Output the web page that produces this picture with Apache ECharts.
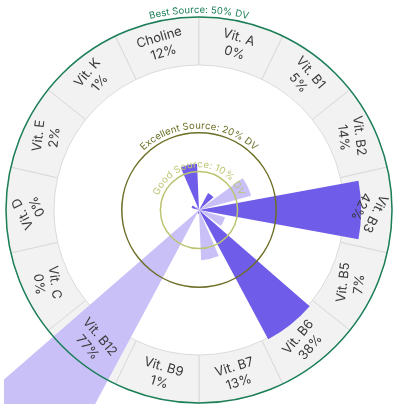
<!DOCTYPE html>
<html>
<head>
<meta charset="utf-8">
<script src="https://cdn.jsdelivr.net/npm/echarts@6/dist/echarts.min.js"></script>
<style>
  html, body { margin: 0; padding: 0; background: #fff; }
  #main { position: absolute; left: 4px; top: 0; width: 392px; height: 404px; }
</style>
</head>
<body>
<div id="main"></div>
<script>
// nutrients, % daily value per serving
var nutrients = ['Choline', 'Vit. A', 'Vit. B1', 'Vit. B2', 'Vit. B3', 'Vit. B5', 'Vit. B6',
                 'Vit. B7', 'Vit. B9', 'Vit. B12', 'Vit. C', 'Vit. D', 'Vit. E', 'Vit. K'];
var dailyValue = [12, 0, 5, 14, 42, 7, 38, 13, 1, 77, 0, 0, 2, 1];

// reference rings
var thresholdValues = [50, 20, 10];
var thresholdLabels = ['Best Source: 50% DV', 'Excellent Source: 20% DV', 'Good Source: 10% DV'];
var thresholdColors = ['#1b7f57', '#6d6e26', '#bcc471'];

var myChart = echarts.init(document.getElementById('main'));

var step = 360 / nutrients.length;
var startAngle = 90 + step;
var center = [195, 210];

// rotate ring labels so they follow the circle and stay upright
function labelRotate(i) {
    var a = startAngle - (i + 0.5) * step;
    while (a <= -180) a += 360;
    while (a > 180) a -= 360;
    if (Math.abs(a + 180) < 0.01) a = 180;
    return a > -0.01 ? a - 90 : a + 90;
}

var measureCtx = document.createElement('canvas').getContext('2d');
var arcFont = '9.6px Inter';
measureCtx.font = arcFont;

function arcText(text, cx, cy, R, color) {
    var widths = [], total = 0;
    for (var i = 0; i < text.length; i++) {
        var w = measureCtx.measureText(text[i]).width;
        widths.push(w);
        total += w;
    }
    var els = [];
    var a0 = Math.PI / 2 + (total / 2) / R;
    var acc = 0;
    for (var j = 0; j < text.length; j++) {
        var a = a0 - (acc + widths[j] / 2) / R;
        acc += widths[j];
        els.push({
            type: 'text',
            x: cx + R * Math.cos(a),
            y: cy - R * Math.sin(a),
            rotation: a - Math.PI / 2,
            style: {
                text: text[j],
                font: arcFont,
                fill: color,
                align: 'center',
                verticalAlign: 'bottom'
            }
        });
    }
    return els;
}

var ringData = nutrients.map(function (n) { return { name: n, value: 1 }; });
var ringLabelData = nutrients.map(function (n, i) {
    return {
        name: n,
        value: 1,
        label: {
            rotate: labelRotate(i),
            formatter: n + '\n' + dailyValue[i] + '%'
        }
    };
});

option = {
    animation: false,
    polar: [
        { center: center, radius: [145, 193] },
        { center: center, radius: [0, 193] },
        { center: center, radius: [0, 193] }
    ],
    angleAxis: [
        { polarIndex: 0, type: 'category', data: nutrients, startAngle: startAngle, show: false },
        { polarIndex: 1, type: 'category', data: nutrients, startAngle: startAngle, show: false },
        { polarIndex: 2, type: 'value', min: 0, max: 360, startAngle: 0, clockwise: false, show: false }
    ],
    radiusAxis: [
        { polarIndex: 0, type: 'value', min: 0, max: 1, show: false },
        { polarIndex: 1, type: 'value', min: 0, max: 50, show: false },
        { polarIndex: 2, type: 'value', min: 0, max: 50, show: false }
    ],
    series: [
        {
            name: 'ring',
            type: 'bar',
            coordinateSystem: 'polar',
            polarIndex: 0,
            barCategoryGap: '0%',
            barGap: '-100%',
            data: ringData,
            itemStyle: { color: '#f2f2f2', borderColor: '#dadada', borderWidth: 1 },
            z: 1,
            silent: true
        },
        {
            name: 'DV',
            type: 'bar',
            coordinateSystem: 'polar',
            polarIndex: 1,
            barCategoryGap: '19%',
            clip: false,
            data: dailyValue,
            itemStyle: {
                color: function (p) { return p.dataIndex % 2 === 0 ? '#6f5ce8' : '#c8c0f7'; }
            },
            z: 2
        },
        {
            name: 'ringLabels',
            type: 'bar',
            coordinateSystem: 'polar',
            polarIndex: 0,
            barCategoryGap: '0%',
            barGap: '-100%',
            data: ringLabelData,
            itemStyle: { color: 'rgba(0,0,0,0)' },
            label: {
                show: true,
                position: 'middle',
                color: '#3a3a3a',
                fontFamily: 'Inter',
                fontSize: 13,
                lineHeight: 16
            },
            z: 3,
            silent: true
        },
        {
            name: 'thresholds',
            type: 'custom',
            coordinateSystem: 'polar',
            polarIndex: 2,
            data: thresholdValues.map(function (v) { return [v, 90]; }),
            renderItem: function (params, api) {
                var cs = params.coordSys;
                var i = params.dataIndex;
                var p = api.coord([api.value(0), 90]);
                var R = Math.sqrt(Math.pow(p[0] - cs.cx, 2) + Math.pow(p[1] - cs.cy, 2));
                var children = [{
                    type: 'circle',
                    shape: { cx: cs.cx, cy: cs.cy, r: R },
                    style: { fill: 'none', stroke: thresholdColors[i], lineWidth: 1.5 }
                }];
                return {
                    type: 'group',
                    children: children.concat(arcText(thresholdLabels[i], cs.cx, cs.cy, R + 2, thresholdColors[i]))
                };
            },
            z: 4,
            silent: true
        }
    ]
};

myChart.setOption(option);
</script>
</body>
</html>
